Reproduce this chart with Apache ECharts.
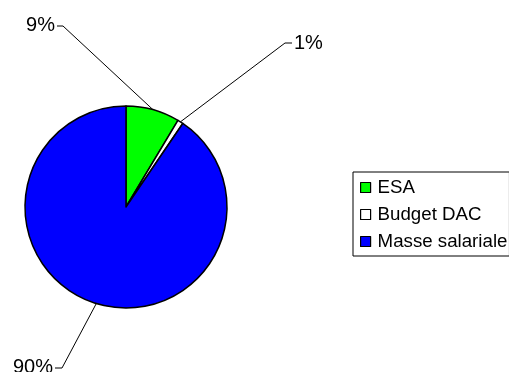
<!DOCTYPE html>
<html>
<head>
<meta charset="utf-8">
<script src="https://cdn.jsdelivr.net/npm/echarts@6/dist/echarts.min.js"></script>
<style>
  html, body { margin: 0; padding: 0; background: #fff; }
  #chart { width: 509px; height: 372px; }
</style>
</head>
<body>
<div id="chart"></div>
<script>
// parts of the budget (shares)
const categories = ['ESA', 'Budget DAC', 'Masse salariale']
const shares = [8.6, 0.9, 90.5]
const colors = ['#00ff00', '#ffffff', '#0000ff']

// where each percent label sits (text anchor, elbow of the leader line)
const labelSpots = [
  { x: 55, y: 25, align: 'right', elbow: [63, 26] },
  { x: 294, y: 43, align: 'left', elbow: [285, 43] },
  { x: 53, y: 367, align: 'right', elbow: [62, 368] },
]

const chart = echarts.init(document.getElementById('chart'))

chart.setOption({
  animation: false,
  backgroundColor: '#fff',
  legend: {
    orient: 'vertical',
    left: 353,
    top: 172,
    padding: [6, 2, 5, 7],
    itemWidth: 10,
    itemHeight: 10,
    itemGap: 8,
    icon: 'rect',
    borderColor: '#000',
    borderWidth: 1,
    borderRadius: 0,
    itemStyle: { borderColor: '#000', borderWidth: 1.2 },
    textStyle: { fontFamily: 'Liberation Sans, Arial', fontSize: 18.7, color: '#000', padding: [0, 0, 0, 2] },
    data: categories,
  },
  series: [{
    type: 'pie',
    center: [126, 207],
    radius: 101,
    startAngle: 90,
    clockwise: true,
    avoidLabelOverlap: false,
    percentPrecision: 0,
    itemStyle: { borderColor: '#000', borderWidth: 1.5 },
    emphasis: { disabled: true },
    label: {
      show: true,
      position: 'outside',
      formatter: '{d}%',
      fontFamily: 'Liberation Sans, Arial',
      fontSize: 20,
      color: '#000',
    },
    labelLine: {
      show: true,
      lineStyle: { color: '#000', width: 1 },
    },
    labelLayout: (params) => {
      const spot = labelSpots[params.dataIndex]
      const start = params.labelLinePoints ? params.labelLinePoints[0] : spot.elbow
      const end = spot.align === 'right' ? [spot.x + 2, spot.elbow[1]] : [spot.x - 2, spot.elbow[1]]
      return {
        x: spot.x,
        y: spot.y,
        align: spot.align,
        verticalAlign: 'middle',
        labelLinePoints: [start, spot.elbow, end],
      }
    },
    data: categories.map((name, i) => ({
      name,
      value: shares[i],
      itemStyle: { color: colors[i] },
    })),
  }],
})
</script>
</body>
</html>
